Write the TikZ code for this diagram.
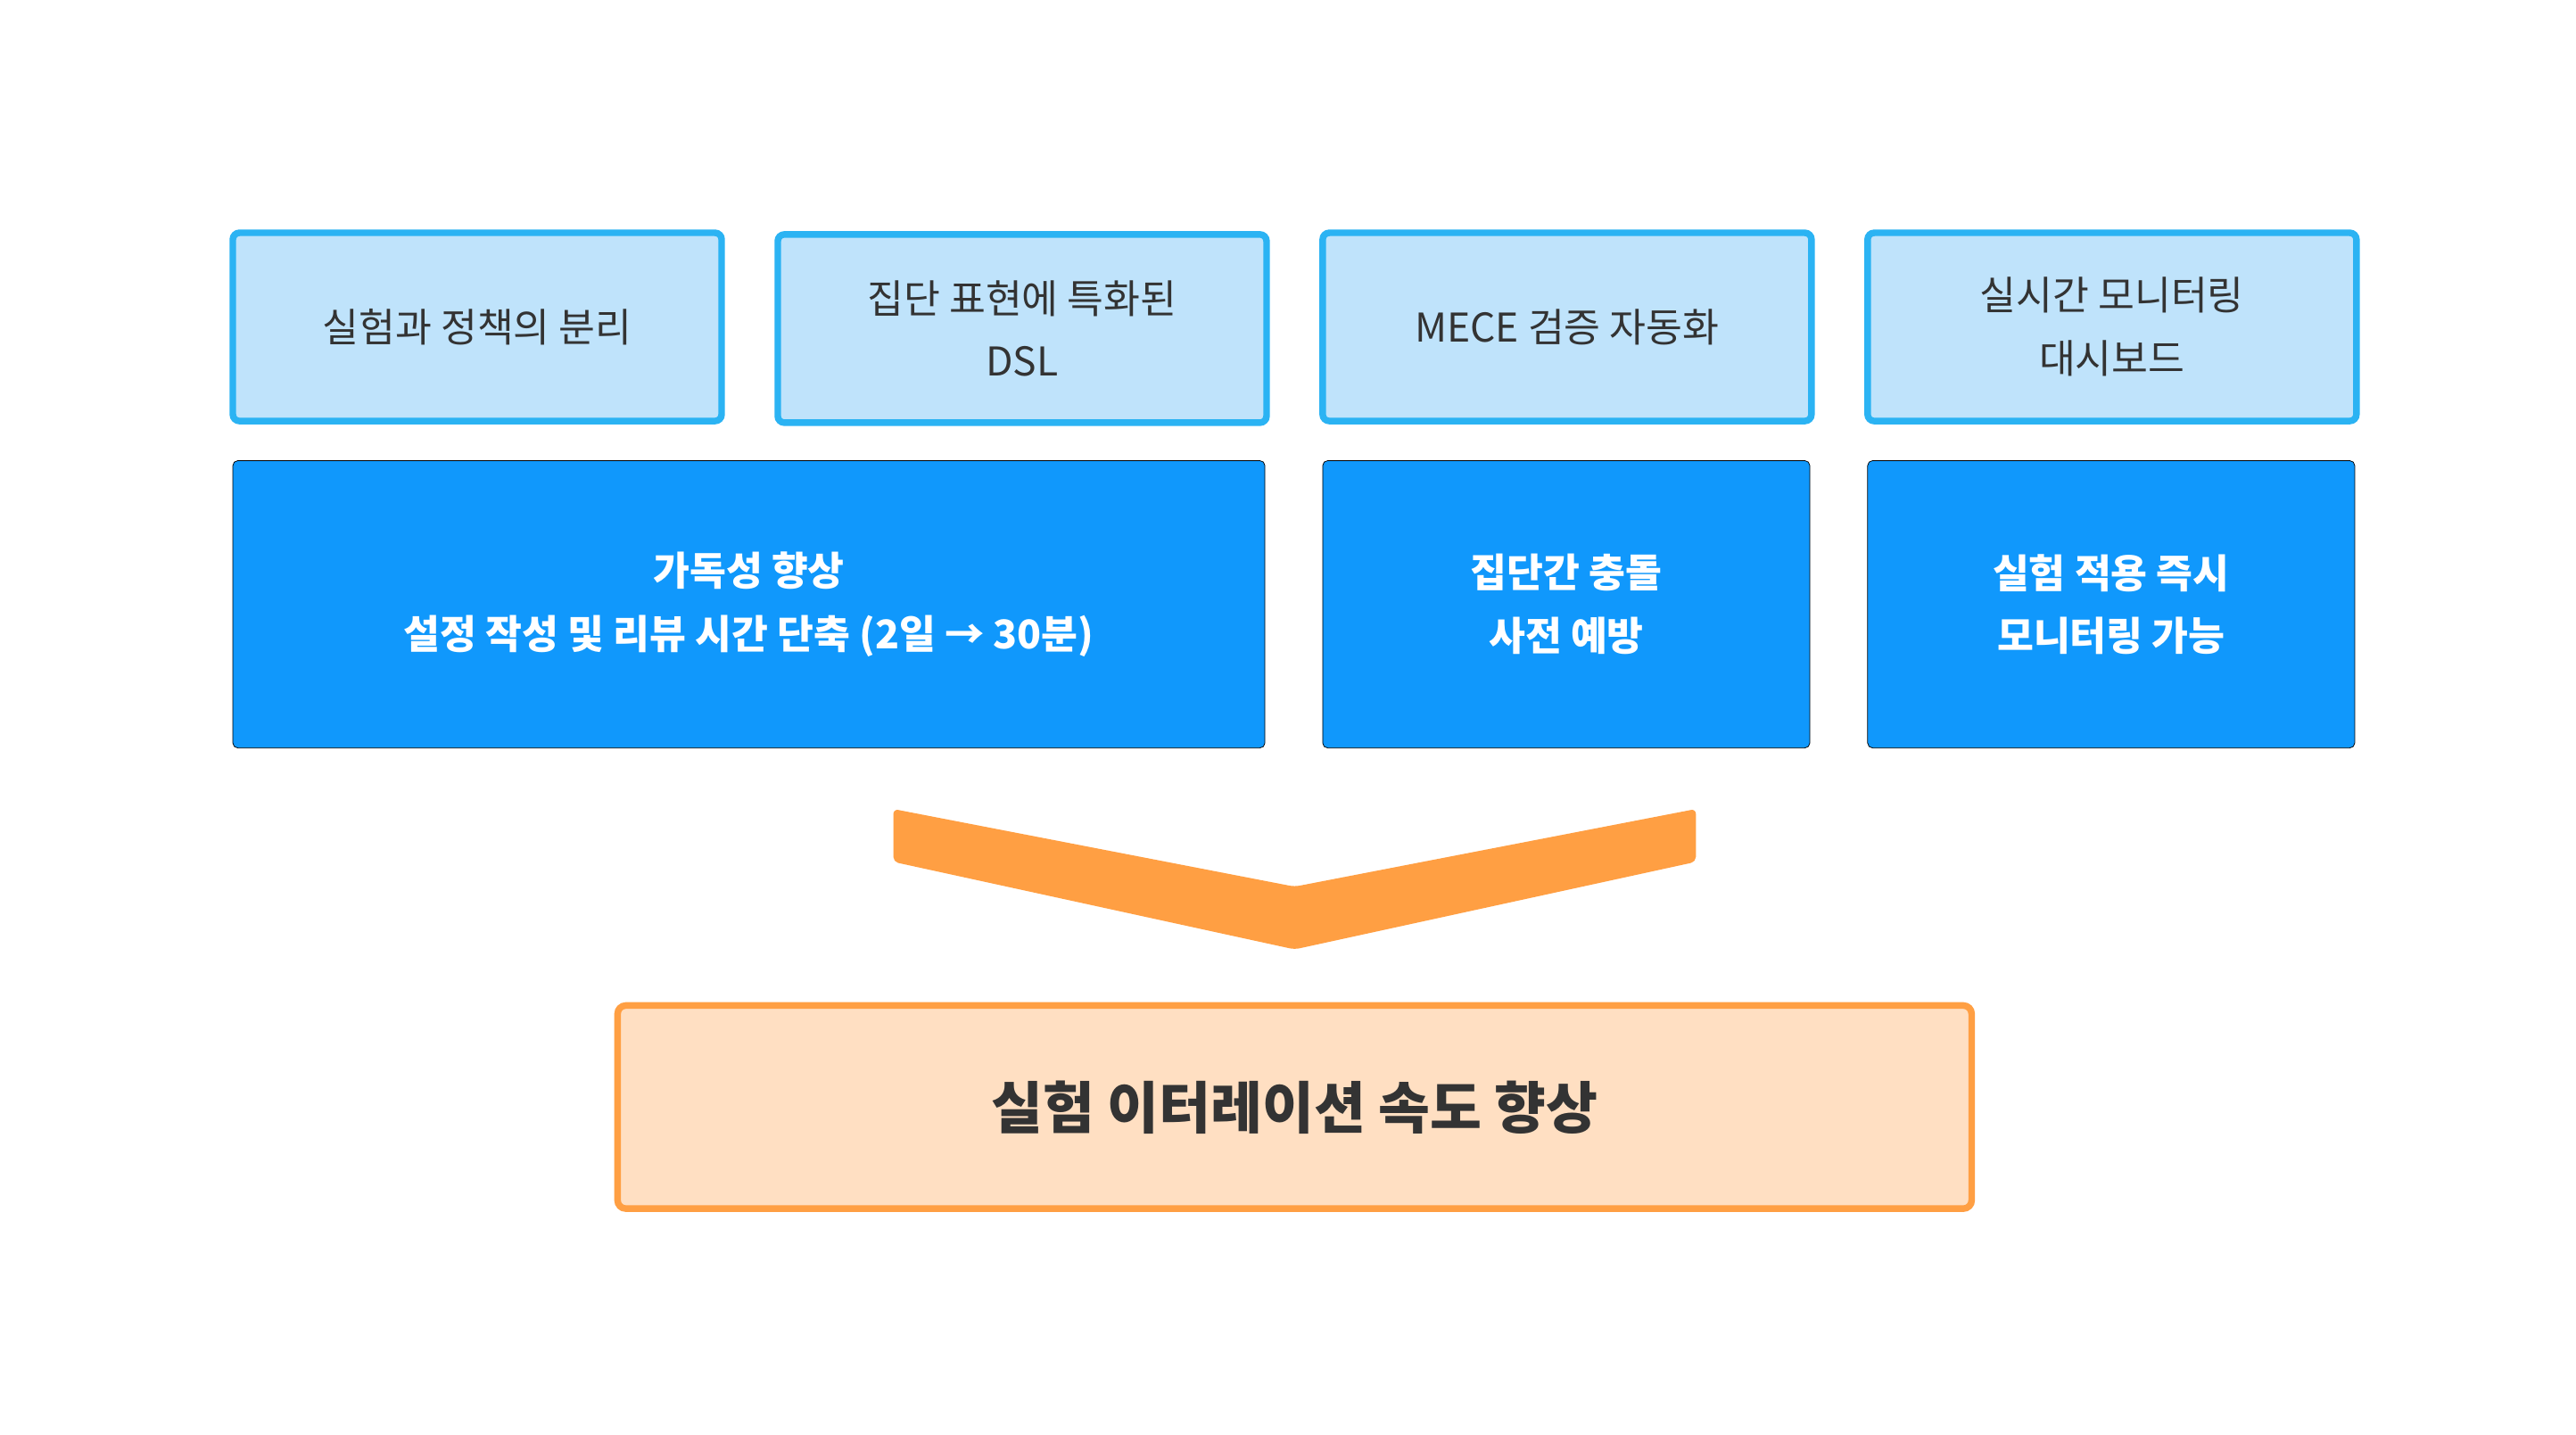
\documentclass[tikz,border=0pt]{standalone}
\usepackage{fontspec}
\setmainfont{Noto Sans CJK KR}
\definecolor{lb}{HTML}{BFE3FB}
\definecolor{lbd}{HTML}{2BB3F3}
\definecolor{bb}{HTML}{1098FC}
\definecolor{og}{HTML}{FF9F43}
\definecolor{ol}{HTML}{FFDFC2}
\definecolor{tx}{HTML}{333333}
\begin{document}
\begin{tikzpicture}[x=1pt,y=-1pt,
 topbox/.style={draw=lbd,fill=lb,line width=4pt,rounded corners=4pt,text=tx,font=\fontsize{24}{38}\selectfont,align=center},
 midbox/.style={fill=bb,rounded corners=3pt,text=white,font=\bfseries\fontsize{24}{38}\selectfont,align=center}]
\fill[white] (0,0) rectangle (1560,869);
\draw[topbox] (141,141) rectangle (437,255) node[midway] (t1) {실험과 정책의 분리};
\draw[topbox] (471,142) rectangle (767,256) node[midway] (t2) {집단 표현에 특화된\\DSL};
\draw[topbox] (801,141) rectangle (1097,255) node[midway] (t3) {MECE 검증 자동화};
\draw[topbox] (1131,141) rectangle (1427,255) node[midway] (t4) {실시간 모니터링\\대시보드};
\draw[midbox] (141,279) rectangle (766,453) node[midway] (m1) {가독성 향상\\설정 작성 및 리뷰 시간 단축 (2일 → 30분)};
\draw[midbox] (801,279) rectangle (1096,453) node[midway] (m2) {집단간 충돌\\사전 예방};
\draw[midbox] (1131,279) rectangle (1426,453) node[midway] (m3) {실험 적용 즉시\\모니터링 가능};
\fill[og,rounded corners=3pt] (541,490) -- (784,537) -- (1027,490) -- (1027,522) -- (784,575) -- (541,522) -- cycle;
\draw[draw=og,fill=ol,line width=4pt,rounded corners=5pt] (374,609) rectangle (1194,732) node[midway,text=tx,font=\bfseries\fontsize{34}{40}\selectfont] (r) {실험 이터레이션 속도 향상};
\end{tikzpicture}
\end{document}
